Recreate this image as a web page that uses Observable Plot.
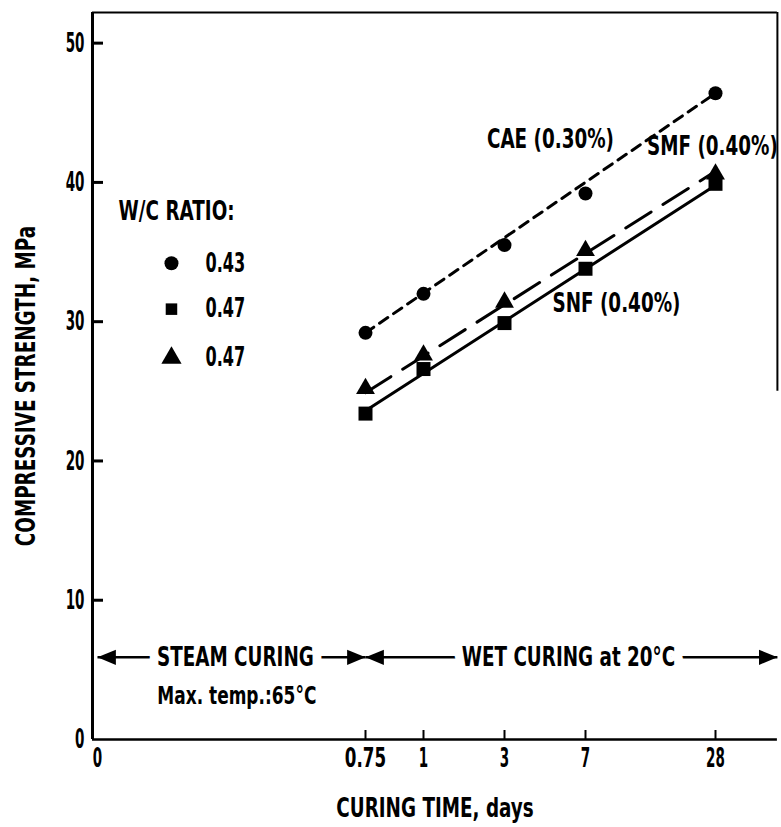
<!DOCTYPE html>
<html><head><meta charset="utf-8">
<script src="https://cdn.jsdelivr.net/npm/d3@7"></script>
<script src="https://cdn.jsdelivr.net/npm/@observablehq/plot@0.6"></script>
<style>html,body{margin:0;padding:0;background:#fff}#chart svg{display:block}</style>
</head><body><div id="chart"></div>
<script>
// ---- data ----
const days = [0.75, 1, 3, 7, 28];
const caeValues = [29.2, 32.0, 35.5, 39.2, 46.4];   // circles, W/C 0.43
const snfValues = [23.4, 26.6, 29.9, 33.8, 39.9];   // squares, W/C 0.47
const smfValues = [25.2, 27.6, 31.4, 35.1, 40.6];   // triangles, W/C 0.47
const fitDays = [0.75, 28];
const caeFit = [29.2, 46.4];
const snfFit = [23.6, 39.8];
const smfFit = [24.9, 40.8];
const xTickValues = [0, 0.75, 1, 3, 7, 28];
const xTickLabels = ["0", "0.75", "1", "3", "7", "28"];
const yTickValues = [0, 10, 20, 30, 40, 50];
const yTickLabels = ["0", "10", "20", "30", "40", "50"];
const legendTitle = "W/C RATIO:";
const legendSymbols = ["circle", "square", "triangle"];
const legendLabels = ["0.43", "0.47", "0.47"];
const seriesLabels = ["CAE (0.30%)", "SNF (0.40%)", "SMF (0.40%)"];
const phaseNames = ["STEAM CURING", "WET CURING at 20°C"];
const phaseStart = [0, 0.75];
const phaseEnd = [0.75, 38];
const steamNote = "Max. temp.:65°C";
const xTitle = "CURING TIME, days";
const yTitle = "COMPRESSIVE STRENGTH, MPa";

// ---- layout helpers ----
const xMin = -0.014, xMax = 38, yTop = 52.2, arrowY = 5.9;
const points = days.flatMap((d, i) => [
  {day: d, v: caeValues[i], s: "circle"},
  {day: d, v: snfValues[i], s: "square"},
  {day: d, v: smfValues[i], s: "triangle"}
]);
const fits = fitDays.map((d, i) => ({day: d, cae: caeFit[i], snf: snfFit[i], smf: smfFit[i]}));
const legend = legendLabels.map((l, i) => ({label: l, symbol: legendSymbols[i], y: [34.2, 30.9, 27.4][i]}));
const seriesPos = [{x: 5.27, y: 43.1}, {x: 12.0, y: 31.3}, {x: 27.5, y: 42.6}];
const phases = phaseNames.map((n, i) => ({name: n, start: phaseStart[i], end: phaseEnd[i], mid: [0.386, 6.16][i]}));

function headSymbol(dir) {
  return {draw(ctx, size) {
    const r = Math.sqrt(size / Math.PI), L = 2.3 * r * dir, h = 0.95 * r;
    ctx.moveTo(0, 0); ctx.lineTo(-L, -h); ctx.lineTo(-L, h); ctx.closePath();
  }};
}

const chart = Plot.plot({
  width: 781, height: 827,
  marginTop: 12, marginBottom: 88, marginLeft: 92, marginRight: 4,
  x: {type: "linear", domain: xTickValues, range: [97, 365, 423, 504, 585, 715], axis: null},
  y: {domain: [0, yTop], axis: null},
  style: {fontFamily: "DejaVu Sans", fontSize: "27px", fontWeight: "bold", color: "black", background: "white"},
  marks: [
    // frame
    Plot.ruleX([xMin], {strokeWidth: 3}),
    Plot.ruleY([0], {x1: xMin, x2: xMax, strokeWidth: 2.5}),
    Plot.ruleY([yTop], {x1: xMin, x2: xMax, strokeWidth: 2}),
    Plot.ruleX([xMax], {y1: 25, y2: yTop, strokeWidth: 2}),
    // ticks
    Plot.ruleY(yTickValues.slice(1), {y: d => d, x1: xMin, x2: xMin, insetRight: -11, strokeWidth: 3}),
    Plot.ruleX(xTickValues.slice(1), {x: d => d, y1: 0, y2: 0, insetBottom: 9, strokeWidth: 2}),
    Plot.text(yTickValues, {x: xMin, y: d => d, text: (d, i) => yTickLabels[i], textAnchor: "end", dx: -8}),
    Plot.text(xTickValues, {x: d => d, y: 0, text: (d, i) => xTickLabels[i], dy: 19}),
    // fitted lines
    Plot.line(fits, {x: "day", y: "cae", strokeWidth: 3, strokeDasharray: "10,7"}),
    Plot.line(fits, {x: "day", y: "smf", strokeWidth: 3, strokeDasharray: "30,14"}),
    Plot.line(fits, {x: "day", y: "snf", strokeWidth: 3}),
    // data points
    Plot.dot(points.filter(p => p.s === "circle"), {x: "day", y: "v", r: 7, fill: "black", stroke: "none"}),
    Plot.dot(points.filter(p => p.s === "square"), {x: "day", y: "v", r: 7.9, symbol: "square", fill: "black", stroke: "none"}),
    Plot.dot(points.filter(p => p.s === "triangle"), {x: "day", y: "v", r: 7, symbol: "triangle", fill: "black", stroke: "none"}),
    // series labels
    Plot.text(seriesLabels, {x: (d, i) => seriesPos[i].x, y: (d, i) => seriesPos[i].y, text: d => d}),
    // legend
    Plot.text([legendTitle], {x: 0.059, y: 37.9, textAnchor: "start", text: d => d}),
    Plot.dot(legend.filter(d => d.symbol === "circle"), {x: 0.207, y: "y", r: 7, fill: "black", stroke: "none"}),
    Plot.dot(legend.filter(d => d.symbol === "square"), {x: 0.207, y: "y", r: 6.5, symbol: "square", fill: "black", stroke: "none"}),
    Plot.dot(legend.filter(d => d.symbol === "triangle"), {x: 0.207, y: "y", r: 7.5, symbol: "triangle", fill: "black", stroke: "none"}),
    Plot.text(legend, {x: 0.302, y: "y", text: "label", textAnchor: "start", fontSize: 26}),
    // curing phase arrows
    Plot.link(phases, {x1: "start", x2: "end", y1: arrowY, y2: arrowY, strokeWidth: 2.5}),
    Plot.dot(phases, {x: "start", y: arrowY, r: 8, symbol: headSymbol(-1), fill: "black", stroke: "none"}),
    Plot.dot(phases, {x: "end", y: arrowY, r: 8, symbol: headSymbol(1), fill: "black", stroke: "none"}),
    Plot.text(phases, {x: "mid", y: arrowY, text: "name", stroke: "white", strokeWidth: 26, strokeLinejoin: "round", fill: "black", paintOrder: "stroke"}),
    Plot.text([steamNote], {x: 0.39, y: 3.15, text: d => d, fontSize: 25}),
    // axis titles
    Plot.text([yTitle], {frameAnchor: "left", textAnchor: "middle", rotate: -90, dx: -66, dy: 10, text: d => d}),
    Plot.text([xTitle], {frameAnchor: "bottom", lineAnchor: "middle", dy: 69, text: d => d})
  ]
});

// condensed lettering like the original typeface
chart.querySelectorAll("text").forEach(t => {
  const s = t.textContent;
  const k = /^\d+$/.test(s) ? 0.5 : /^[\d.]+$/.test(s) ? 0.62 : 0.68;
  const tr = t.getAttribute("transform");
  if (tr) t.setAttribute("transform", tr + ` scale(${k},1)`);
  else {
    const x = +t.getAttribute("x") || 0;
    t.removeAttribute("x");
    t.setAttribute("transform", `translate(${x},0) scale(${k},1)`);
  }
});
document.getElementById("chart").appendChild(chart);
</script>
</body></html>
